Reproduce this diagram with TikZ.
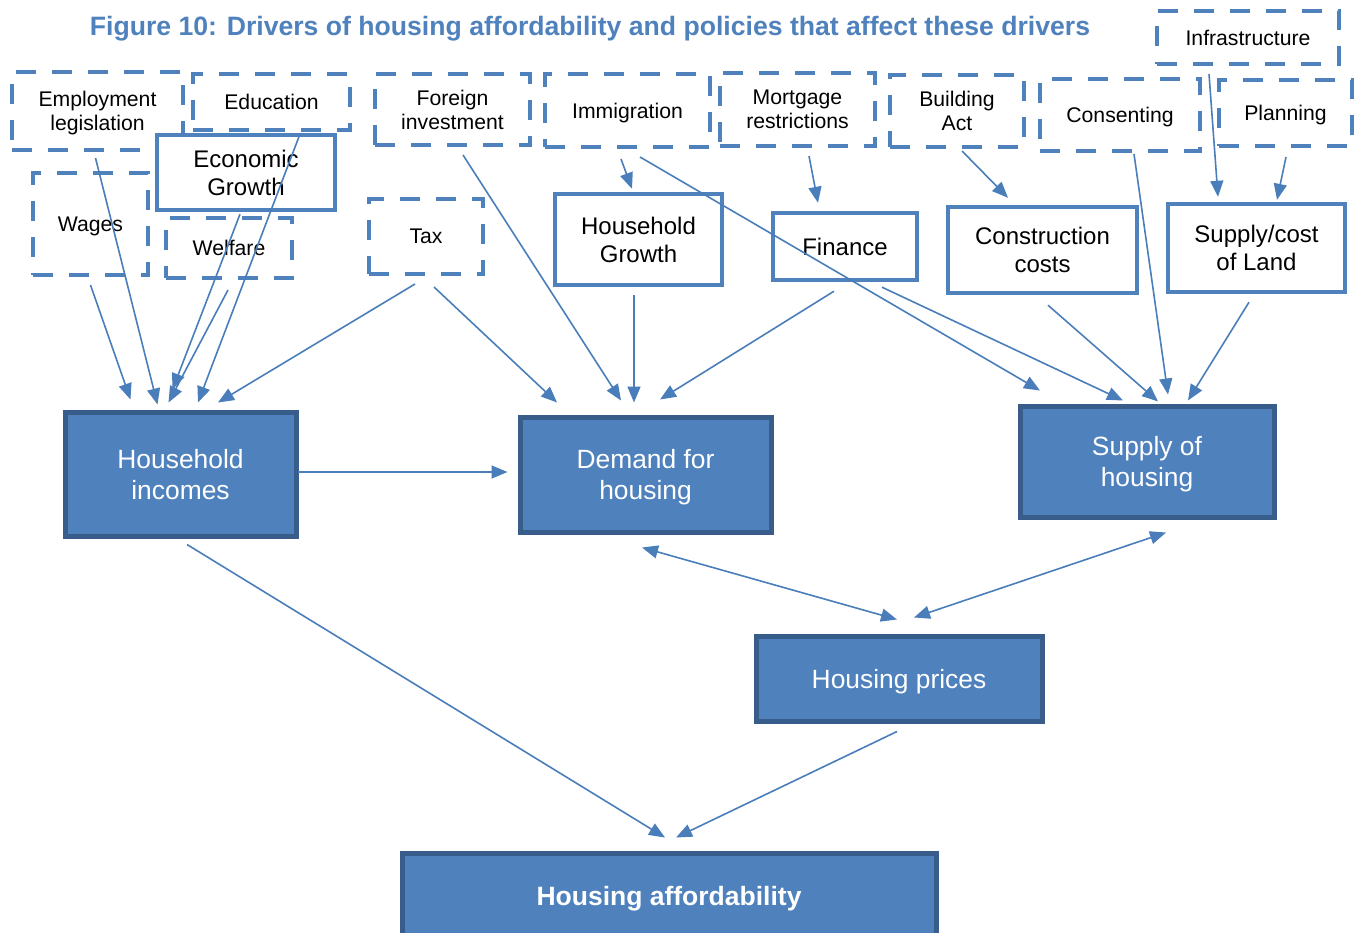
\documentclass[tikz,border=0pt]{standalone}
\usepackage{fontspec}
\setmainfont{Liberation Sans}
\usetikzlibrary{arrows.meta}
\definecolor{boxblue}{HTML}{4F81BD}
\definecolor{edgeblue}{HTML}{385D8A}
\definecolor{lineblue}{HTML}{4A7EBB}

\begin{document}
\begin{tikzpicture}[y=-0.5pt,x=0.5pt,
	policy/.style={draw=boxblue, line width=2pt, dash pattern=on 10pt off 8pt, align=center, inner sep=0pt, text depth=0pt, font=\fontsize{10.6}{12}\selectfont},
	driver/.style={draw=boxblue, line width=2.2pt, fill=white, align=center, inner sep=0pt, text depth=0pt, font=\fontsize{12}{14}\selectfont},
	outcome/.style={draw=edgeblue, line width=2.5pt, fill=boxblue, text=white, align=center, inner sep=0pt, text depth=0pt, font=\fontsize{13.2}{15.5}\selectfont},
	link/.style={draw=lineblue, line width=0.8pt, -{Triangle[length=8pt,width=6.5pt]}},
	both/.style={draw=lineblue, line width=0.8pt, {Triangle[length=8pt,width=6.5pt]}-{Triangle[length=8pt,width=6.5pt]}}]
	\clip (0,0) rectangle (1359,932);

	\node[font=\bfseries\fontsize{13.3}{16}\selectfont, text=boxblue] (title) at (590,29) {Figure 10: Drivers of housing affordability and policies that affect these drivers};

	% policies
	\node[policy, minimum width=85.5pt, minimum height=39pt] (emp) at (97.5,111) {Employment\\legislation};
	\node[policy, minimum width=78.5pt, minimum height=28pt] (edu) at (271.5,102) {Education};
	\node[policy, minimum width=57.5pt, minimum height=51pt] (wages) at (90.5,224) {Wages};
	\node[policy, minimum width=63pt, minimum height=30pt] (welfare) at (229,248) {Welfare};
	\node[policy, minimum width=57pt, minimum height=37.5pt] (tax) at (426,236.5) {Tax};
	\node[policy, minimum width=77.5pt, minimum height=35.5pt] (foreign) at (452.5,109.5) {Foreign\\investment};
	\node[policy, minimum width=82.5pt, minimum height=36.5pt] (immig) at (627.5,110.5) {Immigration};
	\node[policy, minimum width=77.5pt, minimum height=36.5pt] (mortgage) at (797.5,109.5) {Mortgage\\restrictions};
	\node[policy, minimum width=67pt, minimum height=36pt] (building) at (957,111) {Building\\Act};
	\node[policy, minimum width=80pt, minimum height=36pt] (consent) at (1120,115) {Consenting};
	\node[policy, minimum width=91pt, minimum height=26.5pt] (infra) at (1248,37.5) {Infrastructure};
	\node[policy, minimum width=66.5pt, minimum height=33pt] (planning) at (1285.5,113) {Planning};

	% drivers
	\node[driver, minimum width=89pt, minimum height=37.5pt] (econ) at (246,172.5) {Economic\\Growth};
	\node[driver, minimum width=83.5pt, minimum height=45.5pt] (hhgrowth) at (638.5,239.5) {Household\\Growth};
	\node[driver, minimum width=72pt, minimum height=33.5pt] (finance) at (845,246.5) {Finance};
	\node[driver, minimum width=94.5pt, minimum height=43pt] (construct) at (1042.5,250) {Construction\\costs};
	\node[driver, minimum width=88.5pt, minimum height=44pt] (land) at (1256.5,248) {Supply/cost\\of Land};

	% outcomes
	\node[outcome, minimum width=115.5pt, minimum height=62pt] (incomes) at (180.5,474) {Household\\incomes};
	\node[outcome, minimum width=125.5pt, minimum height=57.5pt] (demand) at (645.5,474.5) {Demand for\\housing};
	\node[outcome, minimum width=127pt, minimum height=55.5pt] (supply) at (1147,461.5) {Supply of\\housing};
	\node[outcome, minimum width=143pt, minimum height=42.5pt] (prices) at (899,678.5) {Housing prices};
	\node[outcome, minimum width=267pt, minimum height=43pt, font=\bfseries\fontsize{13.25}{15.5}\selectfont] (afford) at (669,896) {Housing affordability};

	\draw[link] ([shift={(0,8)}]wages.south) -- ([shift={(-50,-10)}]incomes.north);
	\draw[link] ([shift={(-2,6)}]emp.south) -- ([shift={(-23,-5)}]incomes.north);
	\draw[link] ([shift={(-6,2)}]econ.south) -- ([shift={(-8,-20)}]incomes.north);
	\draw[link] ([shift={(-1,10)}]welfare.south) -- ([shift={(-12,-7)}]incomes.north);
	\draw[link] ([shift={(28.5,2)}]edu.south) -- ([shift={(17.5,-7)}]incomes.north);
	\draw[link] ([shift={(-11,8)}]tax.south) -- ([shift={(37.5,-7)}]incomes.north);
	\draw[link] ([shift={(8,11)}]tax.south) -- ([shift={(-88.5,-12)}]demand.north);
	\draw[link] ([shift={(10.5,8)}]foreign.south) -- ([shift={(-24.5,-14)}]demand.north);
	\draw[link] ([shift={(-4.5,8)}]hhgrowth.south) -- ([shift={(-11.5,-12)}]demand.north);
	\draw[link] ([shift={(-11,9)}]finance.south) -- ([shift={(14.5,-15)}]demand.north);
	\draw[link] ([shift={(-6.5,10)}]immig.south) -- ([shift={(-6.5,-3)}]hhgrowth.north);
	\draw[link] ([shift={(12.5,8)}]immig.south) -- ([shift={(-107,-13)}]supply.north);
	\draw[link] ([shift={(11.5,8)}]mortgage.south) -- ([shift={(-27,-8)}]finance.north);
	\draw[link] ([shift={(37,5)}]finance.south) -- ([shift={(-24,-3)}]supply.north);
	\draw[link] ([shift={(5,2)}]building.south) -- ([shift={(-34.5,-7)}]construct.north);
	\draw[link] ([shift={(5.5,10)}]construct.south) -- ([shift={(11,-2)}]supply.north);
	\draw[link] ([shift={(14,1)}]consent.south) -- ([shift={(21,-9)}]supply.north);
	\draw[link] ([shift={(-39,8)}]infra.south) -- ([shift={(-38.5,-5)}]land.north);
	\draw[link] ([shift={(0.5,9)}]planning.south) -- ([shift={(20.5,-2)}]land.north);
	\draw[link] ([shift={(-7.5,8)}]land.south) -- ([shift={(41,-3)}]supply.north);
	\draw[link] ([shift={(-1,-2)}]incomes.east) -- ([shift={(-10,-2.5)}]demand.west);
	\draw[both] ([shift={(-3.5,13)}]demand.south) -- ([shift={(-2,-14)}]prices.north);
	\draw[both] ([shift={(19,13)}]supply.south) -- ([shift={(15,-16)}]prices.north);
	\draw[link] ([shift={(6.5,6)}]incomes.south) -- ([shift={(-4,-13)}]afford.north);
	\draw[link] ([shift={(-2,8)}]prices.south) -- ([shift={(7,-13)}]afford.north);
\end{tikzpicture}
\end{document}
